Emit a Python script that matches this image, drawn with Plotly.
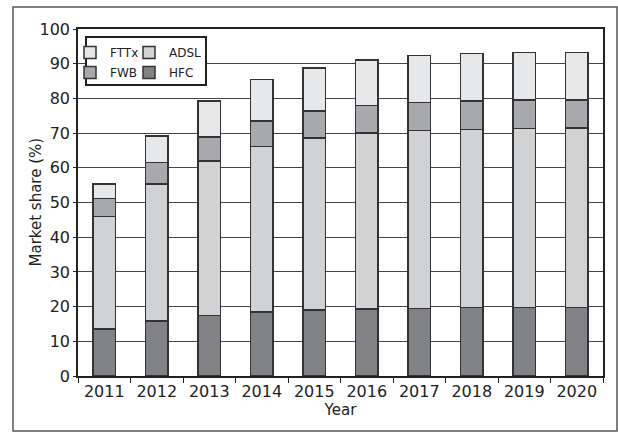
import plotly.graph_objects as go

years = ["2011", "2012", "2013", "2014", "2015", "2016", "2017", "2018", "2019", "2020"]
hfc = [13.6, 15.9, 17.4, 18.4, 19.0, 19.3, 19.4, 19.7, 19.7, 19.7]
adsl = [32.3, 39.5, 44.5, 47.7, 49.6, 50.7, 51.3, 51.4, 51.6, 51.7]
fwb = [5.3, 6.2, 7.0, 7.4, 7.8, 7.9, 8.1, 8.2, 8.3, 8.1]
fttx = [4.2, 7.6, 10.4, 11.9, 12.4, 13.2, 13.6, 13.7, 13.7, 13.8]

FONT = "DejaVu Sans"
line = dict(color="#333333", width=1.5)

fig = go.Figure()
fig.add_trace(go.Bar(x=years, y=hfc, name="HFC", legendgroup="hfc", legendrank=2,
                     marker=dict(color="#808285", line=line), legend="legend2"))
fig.add_trace(go.Bar(x=years, y=adsl, name="ADSL", legendgroup="adsl", legendrank=1,
                     marker=dict(color="#d1d2d4", line=line), legend="legend2"))
fig.add_trace(go.Bar(x=years, y=fwb, name="FWB", legendgroup="fwb", legendrank=2,
                     marker=dict(color="#a7a9ac", line=line), legend="legend"))
fig.add_trace(go.Bar(x=years, y=fttx, name="FTTx", legendgroup="fttx", legendrank=1,
                     marker=dict(color="#e6e7e8", line=line), legend="legend"))

W, H = 618, 433
L, R, T, B = 78, 15, 29, 57
pw, ph = W - L - R, H - T - B

def px(x):
    return (x - L) / pw

def py(y):
    return (H - B - y) / ph

fig.update_layout(
    width=W, height=H,
    margin=dict(l=L, r=R, t=T, b=B),
    barmode="stack", bargap=0.58,
    paper_bgcolor="white", plot_bgcolor="white",
    font=dict(family=FONT, size=16, color="#222222"),
    showlegend=True,
    legend=dict(x=px(70), y=py(38), xanchor="left", yanchor="top",
                traceorder="grouped", bgcolor="rgba(0,0,0,0)",
                font=dict(size=12), itemwidth=30, tracegroupgap=1),
    legend2=dict(x=px(129), y=py(38), xanchor="left", yanchor="top",
                 traceorder="grouped", bgcolor="rgba(0,0,0,0)",
                 font=dict(size=12), itemwidth=30, tracegroupgap=1),
    xaxis=dict(title=dict(text="Year", standoff=2, font=dict(size=15)),
               showline=True, linecolor="#222222", linewidth=1.5, mirror=True,
               ticks="outside", tickson="boundaries", ticklen=5, tickcolor="#222222",
               showgrid=False),
    yaxis=dict(range=[0, 100], dtick=10,
               showline=True, linecolor="#222222", linewidth=1.5, mirror=True,
               ticks="outside", ticklen=3, tickcolor="#222222",
               showgrid=True, gridcolor="#444444", gridwidth=1),
    annotations=[
        dict(text="Market share (%)", xref="paper", yref="paper",
             x=px(35), y=0.5, textangle=-90, showarrow=False,
             xanchor="center", yanchor="middle", font=dict(size=15)),
    ],
    shapes=[
        dict(type="rect", xref="paper", yref="paper",
             x0=px(13), x1=px(617), y0=py(431), y1=py(7),
             line=dict(color="#555555", width=1.5), layer="below"),
        dict(type="rect", xref="paper", yref="paper",
             x0=px(86), x1=px(206), y0=py(85), y1=py(37),
             line=dict(color="#222222", width=2), fillcolor="white", layer="above"),
    ],
)

fig.write_html("out.html", config={"displayModeBar": False},
               post_script="document.body.style.margin='0';document.body.style.overflow='hidden';")
